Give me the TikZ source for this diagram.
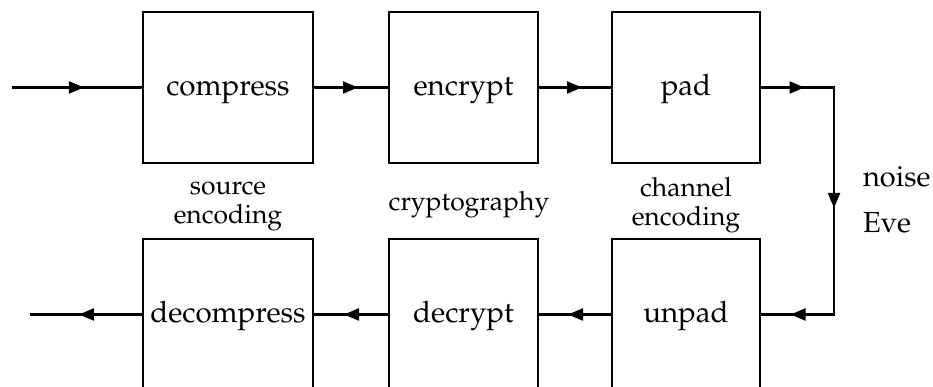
\documentclass[tikz,border=0pt]{standalone}
\usepackage[T1]{fontenc}
\usepackage{mathpazo}
\usetikzlibrary{arrows.meta,decorations.markings}
\begin{document}
\begin{tikzpicture}[x=1pt,y=-1pt,
  line width=2.2pt,
  blk/.style={draw,line width=2.2pt,minimum height=151pt,inner sep=0pt,text height=20pt,text depth=4pt,font=\fontsize{29.5}{32}\selectfont},
  lbl/.style={align=center,font=\fontsize{26.5}{29}\selectfont,inner sep=0pt},
  side/.style={anchor=west,font=\fontsize{29}{32}\selectfont,inner sep=0pt},
  midarrow/.style={decoration={markings,mark=at position 0.5 with {\arrow[xshift=7pt]{Triangle[length=15pt,width=12pt]}}},postaction={decorate}}
]
\useasboundingbox (0,0) rectangle (933,387);
\begin{scope}
\clip (0,0) rectangle (933,387);
\node[blk,minimum width=170pt] (comp) at (228,87.5) {compress};
\node[blk,minimum width=149pt] (enc) at (463.5,87.5) {encrypt};
\node[blk,minimum width=148pt] (pad) at (686,87.5) {pad};
\node[blk,minimum width=170pt] (dcomp) at (228,314.5) {decompress};
\node[blk,minimum width=149pt] (dec) at (463.5,314.5) {decrypt};
\node[blk,minimum width=148pt] (unpad) at (686,314.5) {unpad};
\end{scope}
\coordinate (in) at (12,87.5);
\coordinate (out) at (30,314.5);
\coordinate (c1) at (834,87.5);
\coordinate (c2) at (834,314.5);
\draw[midarrow] (in) -- (comp.west);
\draw[midarrow] (comp.east) -- (enc.west);
\draw[midarrow] (enc.east) -- (pad.west);
\draw (pad.east) -- (c1) -- (c2) -- (unpad.east);
\draw[midarrow] (pad.east) -- (c1);
\draw[midarrow] (c1) -- (c2);
\draw[midarrow] (c2) -- (unpad.east);
\draw[midarrow] (unpad.west) -- (dec.east);
\draw[midarrow] (dec.west) -- (dcomp.east);
\draw[midarrow] (dcomp.west) -- (out);
\node[lbl] (l1) at (228,206) {source\\encoding};
\node[lbl] (l2) at (469,205) {cryptography};
\node[lbl] (l3) at (686,205) {channel\\encoding};
\node[side] (n1) at (862,177) {noise};
\node[side] (n2) at (862,223) {Eve};
\end{tikzpicture}
\end{document}
